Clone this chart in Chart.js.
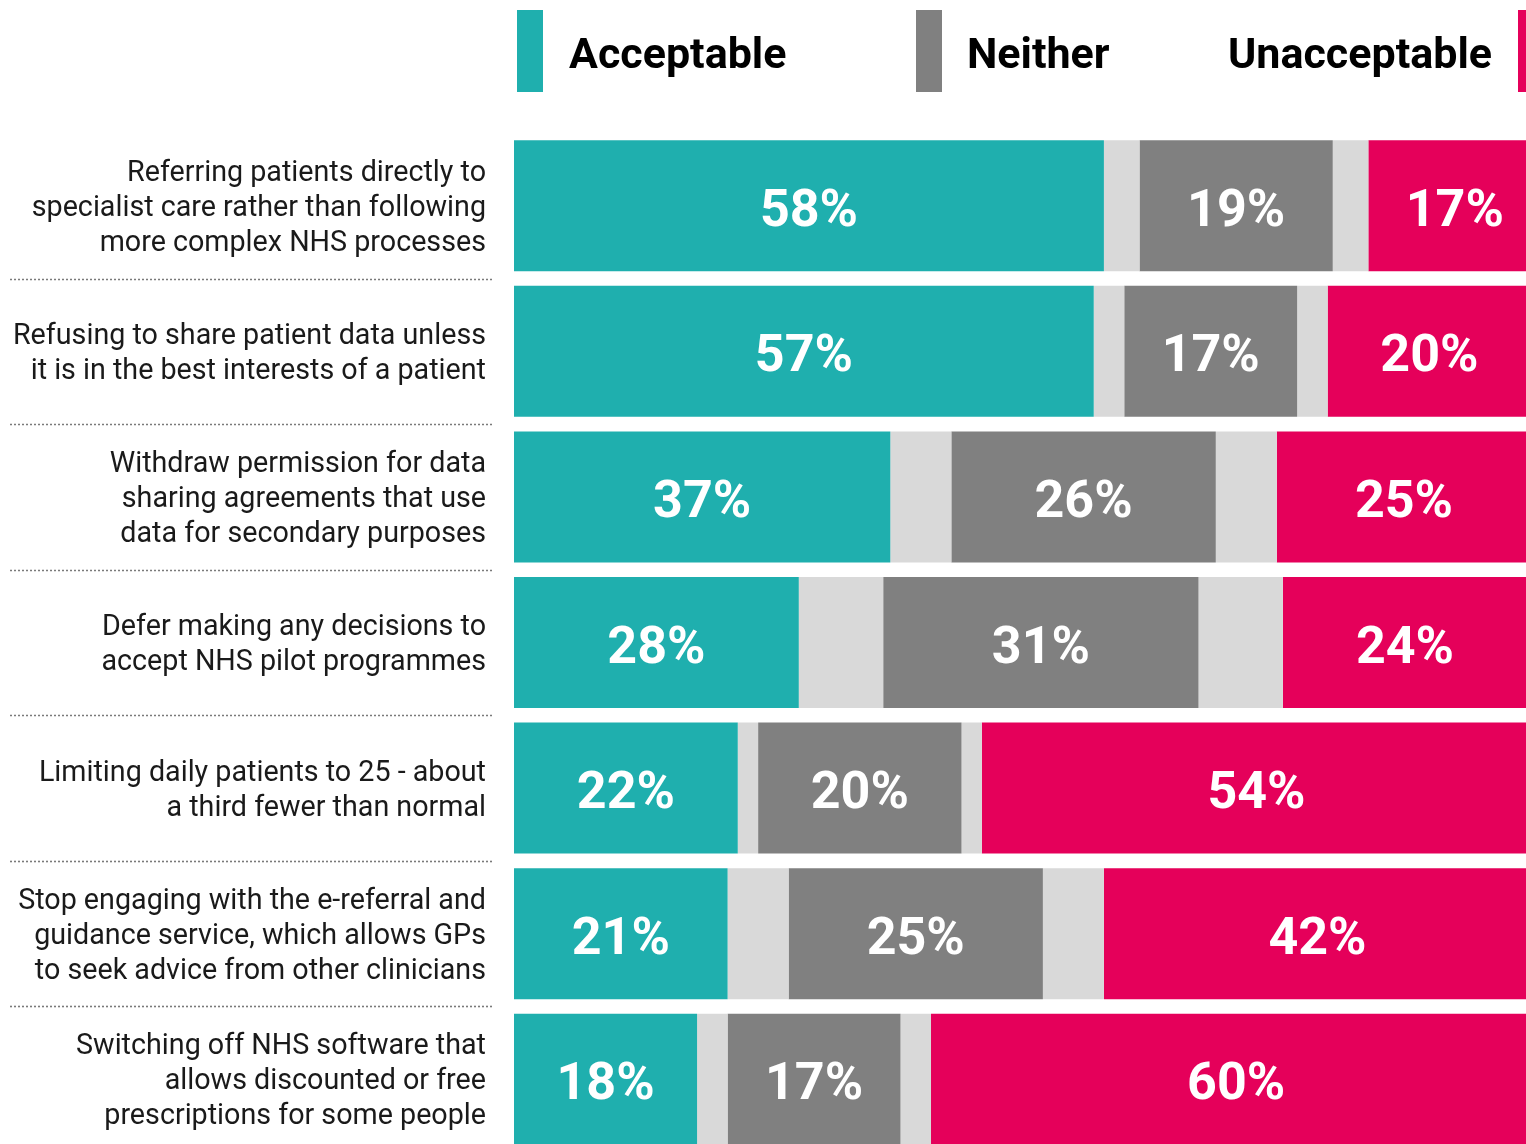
<!DOCTYPE html>
<html>
<head>
<meta charset="utf-8">
<script src="https://cdn.jsdelivr.net/npm/chart.js@4.4.1/dist/chart.umd.min.js"></script>
<style>
  html, body { margin: 0; padding: 0; background: #fff; overflow: hidden; }
  #attitudesChart { position: absolute; left: 0; top: 0; }
</style>
</head>
<body>
<canvas id="attitudesChart" width="1526" height="1160"></canvas>
<script>
const categories = [
  ["Referring patients directly to", "specialist care rather than following", "more complex NHS processes"],
  ["Refusing to share patient data unless", "it is in the best interests of a patient"],
  ["Withdraw permission for data", "sharing agreements that use", "data for secondary purposes"],
  ["Defer making any decisions to", "accept NHS pilot programmes"],
  ["Limiting daily patients to 25 - about", "a third fewer than normal"],
  ["Stop engaging with the e-referral and", "guidance service, which allows GPs", "to seek advice from other clinicians"],
  ["Switching off NHS software that", "allows discounted or free", "prescriptions for some people"]
];

const acceptable = [58, 57, 37, 28, 22, 21, 18];
const neither = [19, 17, 26, 31, 20, 25, 17];
const unacceptable = [17, 20, 25, 24, 54, 42, 60];
// the light grey space either side of "Neither" (remaining answers, split in two)
const otherHalf = [3.5, 3, 6, 8.3, 2, 6, 3];

const TEAL = '#1FAFAE';
const GREY = '#808080';
const PINK = '#E5005A';
const LIGHT = '#D9D9D9';

const valueLabels = {
  id: 'valueLabels',
  afterDatasetsDraw(chart) {
    const ctx = chart.ctx;
    ctx.save();
    ctx.font = 'bold 52px Roboto';
    ctx.fillStyle = '#fff';
    ctx.textAlign = 'center';
    ctx.textBaseline = 'alphabetic';
    chart.data.datasets.forEach((ds, i) => {
      if (!ds.showValue) return;
      chart.getDatasetMeta(i).data.forEach((bar, j) => {
        const p = bar.getCenterPoint();
        ctx.fillText(ds.data[j] + '%', p.x, p.y + 20);
      });
    });
    ctx.restore();
  }
};

const rowDividers = {
  id: 'rowDividers',
  afterDraw(chart) {
    const ctx = chart.ctx;
    const y = chart.scales.y;
    ctx.save();
    ctx.strokeStyle = '#7a7a7a';
    ctx.lineWidth = 1.6;
    ctx.setLineDash([2, 2]);
    for (let i = 1; i < categories.length; i++) {
      const yy = Math.round((y.getPixelForValue(i - 1) + y.getPixelForValue(i)) / 2) + 0.5;
      ctx.beginPath();
      ctx.moveTo(10, yy);
      ctx.lineTo(493, yy);
      ctx.stroke();
    }
    ctx.restore();
  }
};

const topLegend = {
  id: 'topLegend',
  afterDraw(chart) {
    const ctx = chart.ctx;
    ctx.save();
    ctx.font = 'bold 43px Roboto';
    ctx.textBaseline = 'alphabetic';
    // Acceptable
    ctx.fillStyle = TEAL;
    ctx.fillRect(517, 10, 26, 82);
    ctx.fillStyle = '#000';
    ctx.textAlign = 'left';
    ctx.fillText('Acceptable', 569, 68);
    // Neither
    ctx.fillStyle = GREY;
    ctx.fillRect(916, 10, 26, 82);
    ctx.fillStyle = '#000';
    ctx.fillText('Neither', 967, 68);
    // Unacceptable (swatch on the right)
    ctx.textAlign = 'right';
    ctx.fillText('Unacceptable', 1492, 68);
    ctx.fillStyle = PINK;
    ctx.fillRect(1518, 10, 26, 82);
    ctx.restore();
  }
};

const common = { barPercentage: 0.9, categoryPercentage: 1, borderWidth: 0 };

new Chart(document.getElementById('attitudesChart').getContext('2d'), {
  type: 'bar',
  data: {
    labels: categories,
    datasets: [
      Object.assign({ label: 'Acceptable', data: acceptable, backgroundColor: TEAL, showValue: true }, common),
      Object.assign({ label: 'Other', data: otherHalf, backgroundColor: LIGHT }, common),
      Object.assign({ label: 'Neither', data: neither, backgroundColor: GREY, showValue: true }, common),
      Object.assign({ label: 'Other ', data: otherHalf, backgroundColor: LIGHT }, common),
      Object.assign({ label: 'Unacceptable', data: unacceptable, backgroundColor: PINK, showValue: true }, common)
    ]
  },
  options: {
    indexAxis: 'y',
    responsive: false,
    animation: false,
    layout: { padding: { top: 133, bottom: 8, left: 0, right: 0 } },
    scales: {
      x: {
        stacked: true,
        display: false,
        min: 0,
        max: 99.5
      },
      y: {
        stacked: true,
        grid: { display: false, drawTicks: false },
        border: { display: false },
        ticks: {
          padding: 28,
          labelOffset: 3,
          color: '#1a1a1a',
          font: { family: 'Roboto', size: 28.7, lineHeight: 1.22 }
        },
        afterFit(scale) {
          scale.width = 514;
          // labels sit inside their bands, no extra room needed above/below
          scale.paddingTop = 0;
          scale.paddingBottom = 0;
        }
      }
    },
    plugins: {
      legend: { display: false },
      tooltip: { enabled: false }
    }
  },
  plugins: [valueLabels, rowDividers, topLegend]
});
</script>
</body>
</html>
